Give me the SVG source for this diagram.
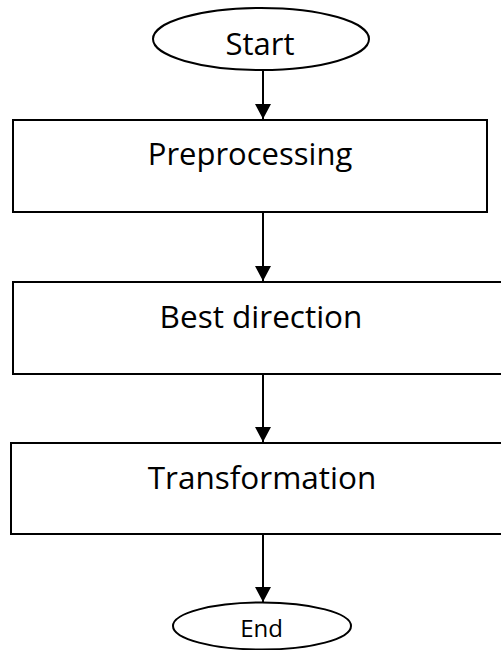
<svg xmlns="http://www.w3.org/2000/svg" width="501" height="650" viewBox="0 0 501 650">
<style>
.shape{fill:#fff;stroke:#000;stroke-width:2}
.lbl{font-family:"Open Sans","Noto Sans",sans-serif;fill:#000;text-anchor:middle}
.conn{stroke:#000;stroke-width:2;fill:none}
</style>
<defs>
<marker id="ah" markerUnits="userSpaceOnUse" markerWidth="16" markerHeight="18" refX="15" refY="8" orient="auto" viewBox="0 0 16 16">
<path d="M0,0 L15,8 L0,16 Z" fill="#000"/>
</marker>
</defs>
<rect width="501" height="650" fill="#fff"/>
<g id="start">
<ellipse class="shape" cx="261" cy="39" rx="108" ry="31"/>
<text class="lbl" x="260" y="55" font-size="31">Start</text>
</g>
<g id="preprocessing">
<rect class="shape" x="13" y="120" width="474" height="92"/>
<text class="lbl" x="250" y="165" font-size="31">Preprocessing</text>
</g>
<g id="best-direction">
<rect class="shape" x="13" y="282" width="500" height="92"/>
<text class="lbl" x="261" y="328" font-size="31.5">Best direction</text>
</g>
<g id="transformation">
<rect class="shape" x="11" y="443" width="502" height="91"/>
<text class="lbl" x="262" y="489" font-size="31.5">Transformation</text>
</g>
<g id="end">
<ellipse class="shape" cx="262" cy="626" rx="89" ry="23.5"/>
<text class="lbl" x="261.5" y="637" font-size="24">End</text>
</g>
<g id="connectors">
<line class="conn" x1="263" y1="70" x2="263" y2="119" marker-end="url(#ah)"/>
<line class="conn" x1="263" y1="212" x2="263" y2="281" marker-end="url(#ah)"/>
<line class="conn" x1="263" y1="374" x2="263" y2="442" marker-end="url(#ah)"/>
<line class="conn" x1="263" y1="534" x2="263" y2="602" marker-end="url(#ah)"/>
</g>
</svg>
